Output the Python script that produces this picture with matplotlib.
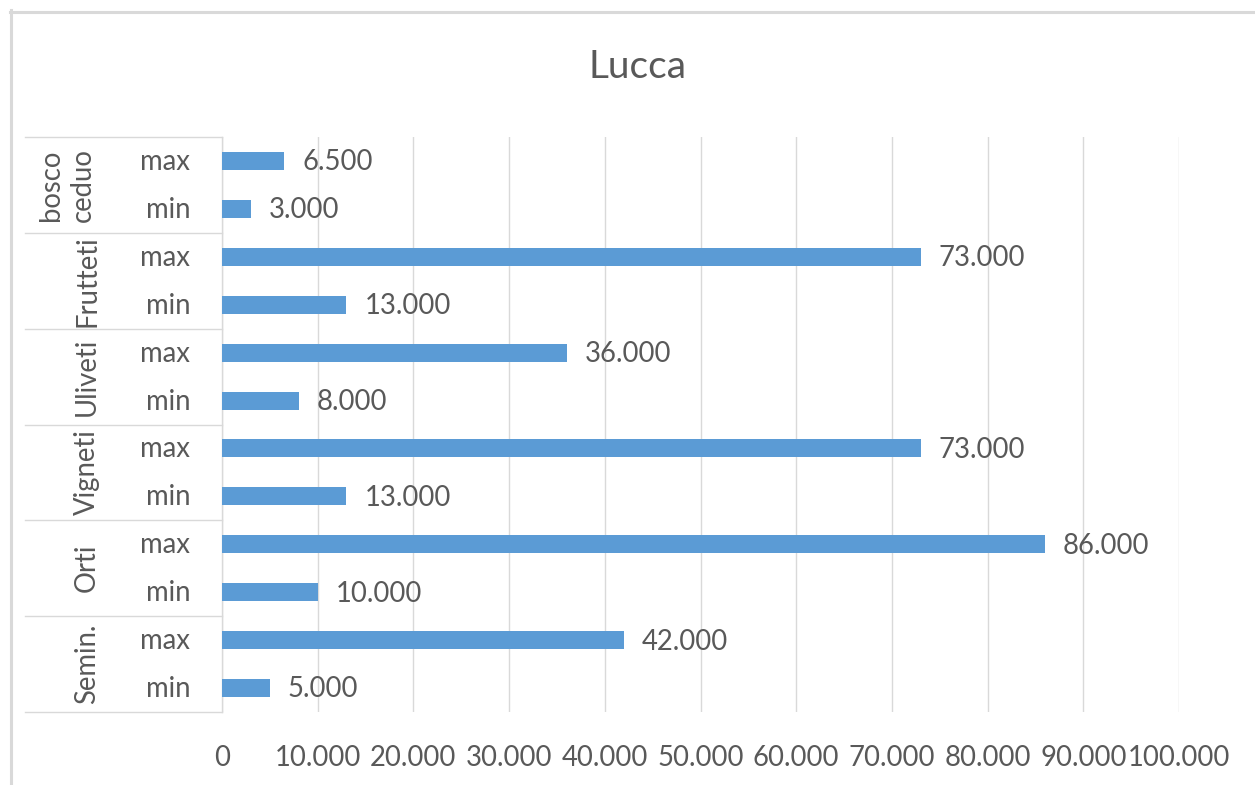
import matplotlib
matplotlib.use("Agg")
import matplotlib.pyplot as plt
from matplotlib.lines import Line2D
from matplotlib.ticker import FuncFormatter
import matplotlib.transforms as mtransforms

plt.rcParams['font.family'] = ['Lato', 'DejaVu Sans']

# Data (bottom to top, as in the Excel chart)
groups = ["Semin.", "Orti", "Vigneti", "Uliveti", "Frutteti", "bosco\nceduo"]
sub_labels = ["min", "max"]
values_min = [5000, 10000, 13000, 8000, 13000, 3000]
values_max = [42000, 86000, 73000, 36000, 73000, 6500]
x_ticks = [0, 10000, 20000, 30000, 40000, 50000, 60000, 70000, 80000, 90000, 100000]
title = "Lucca"

TXT = "#595959"
BAR = "#5B9BD5"
GRID = "#D9D9D9"
FS = 19.8

W, H = 1255, 785
fig = plt.figure(figsize=(W / 100, H / 100), dpi=100)
L, R, T, B = 222, 1179, 137, 712
ax = fig.add_axes([L / W, 1 - B / H, (R - L) / W, (B - T) / H])

vals = []
labels = []
for g, mn, mx in zip(groups, values_min, values_max):
    vals += [mn, mx]
    labels += sub_labels
ys = list(range(len(vals)))

ax.barh(ys, vals, height=0.376, color=BAR, zorder=3)
ax.set_xlim(0, 100000)
ax.set_ylim(-0.5, len(vals) - 0.5)
ax.set_xticks(x_ticks)
ax.xaxis.set_major_formatter(FuncFormatter(lambda v, p: f"{int(v):,}".replace(",", ".")))
ax.tick_params(axis='x', length=0, pad=24, labelsize=FS, labelcolor=TXT)
ax.set_yticks([])
ax.grid(axis='x', color=GRID, linewidth=1.0, zorder=0)
for s in ["top", "right", "bottom"]:
    ax.spines[s].set_visible(False)
ax.spines["left"].set_color(GRID)
ax.spines["left"].set_linewidth(1.0)

# Data labels
for y, v in zip(ys, vals):
    ax.annotate(f"{v:,}".replace(",", "."), xy=(v, y), xytext=(13, -1),
                textcoords="offset points", ha="left", va="center",
                fontsize=FS, color=TXT)

# Multi-level category axis
tr = mtransforms.blended_transform_factory(fig.transFigure, ax.transData)
for y, lab in zip(ys, labels):
    ax.text(190 / W, y - 0.02, lab, transform=tr, ha="right", va="center",
            fontsize=FS, color=TXT, clip_on=False)
for i, g in enumerate(groups):
    yc = 2 * i + 0.5
    ax.text(67 / W if "\n" in g else 87 / W, yc, g, transform=tr, rotation=90,
            ha="center", va="center", fontsize=FS, color=TXT,
            linespacing=1.25, multialignment="center", clip_on=False)
for k in range(len(groups) + 1):
    yb = 2 * k - 0.5
    ax.add_line(Line2D([25 / W, L / W], [yb, yb], transform=tr, color=GRID,
                       linewidth=1.0, clip_on=False))

# Title
fig.text(638 / W, 1 - 67 / H, title, ha="center", va="center", fontsize=28, color=TXT)

# Chart border (left and top visible)
fig.add_artist(Line2D([11.5 / W, 11.5 / W], [0, 1 - 10 / H], transform=fig.transFigure,
                      color=GRID, linewidth=2.2))
fig.add_artist(Line2D([10 / W, 1], [1 - 11.5 / H, 1 - 11.5 / H], transform=fig.transFigure,
                      color=GRID, linewidth=2.2))

fig.savefig("out.png", dpi=100, facecolor="white")
